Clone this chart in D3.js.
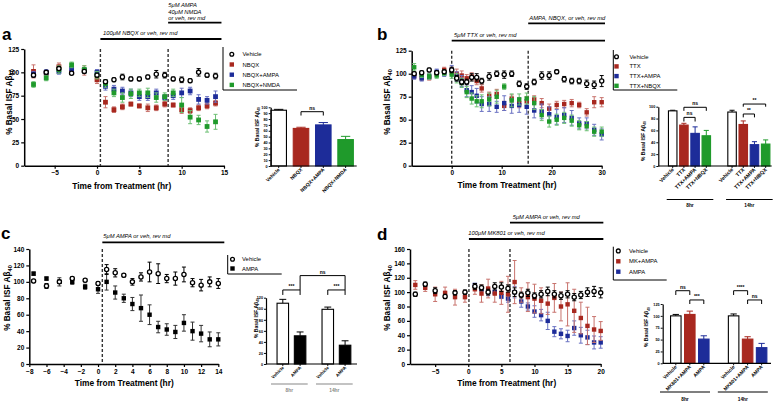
<!DOCTYPE html>
<html><head><meta charset="utf-8">
<script src="https://cdn.jsdelivr.net/npm/d3@7"></script>
<style>body{margin:0;background:#fff}svg{display:block}</style>
</head><body><svg id="c" width="778" height="411"></svg>
<script>
// ================= DATA =================
// Panel a
const aTimes = [-7.5,-6,-4.5,-3,-1.5,0,1,2,3,4,5,6,7,8,9,10,11,12,13,14];
const aVehicle     = [97,100,104,99,101,97,90,92,95,93,93,95,98,97,93,92,91,100,97,96];
const aVehicleErr  = [2,2,2,1.5,1.5,2,2,2,3,2,2,2,4,3,2,3,2,4,2,3];
const aNBQX        = [101,99,106,100,102,92,68,60,63,66,64,62,62,66,65,60,59,62,64,67];
const aNBQXErr     = [7,3,4,2,5,4,6,3,3,2,2,4,3,3,2,4,3,3,3,3];
const aNBQXAMPA    = [98,100,101,104,102,100,85,82,80,78,74,74,78,73,75,78,80,71,70,74];
const aNBQXAMPAErr = [3,3,3,4,3,3,4,4,4,4,4,4,4,3,4,5,4,5,4,6];
const aNBQXNMDA    = [87,94,103,108,103,97,88,78,73,77,78,78,73,74,78,65,52,49,42,47];
const aNBQXNMDAErr = [3,3,4,3,4,4,4,4,5,5,4,5,5,4,4,8,7,5,6,8];
const aEvents = [0.4, 8.4];
const aXTicks = [-5,0,5,10,15];
const aYTicks = [0,25,50,75,100,125];
const aLegend = ["Vehicle","NBQX","NBQX+AMPA","NBQX+NMDA"];
const aAnnot1 = ["100μM NBQX or veh, rev md"];
const aAnnot2 = ["5μM AMPA","40μM NMDA","or veh, rev md"];

// Panel b
const bTimes = [-7.5,-6,-4.5,-3,-1.5,0,1,2,3,4,5,6,7.5,9,10.5,12,13.5,15,16.5,18,19.5,21,22.5,24,25.5,27,28.5,30];
const bVehicle    = [100,101,104,101,102,104,95,91,91,96,96,92,97,100,99,100,89,86,91,98,98,102,94,92,92,89,88,92];
const bVehicleErr = [2,2,2,2,2,3,3,3,3,4,4,3,4,3,4,3,3,3,3,4,4,2,3,3,3,4,4,6];
const bTTX        = [98,96,96,100,104,103,100,98,95,97,92,84,76,78,65,73,68,70,72,68,62,66,67,68,66,58,69,69];
const bTTXErr     = [3,3,3,3,3,4,5,5,4,4,4,4,4,5,5,4,5,5,4,5,5,4,4,4,3,4,6,5];
const bTTXAMPA    = [97,95,97,102,100,104,97,92,82,80,76,67,67,64,68,65,66,64,60,59,56,53,55,52,46,46,39,34];
const bTTXAMPAErr = [3,3,3,3,3,5,5,6,7,7,8,8,8,6,8,8,8,8,8,8,8,8,8,8,6,6,6,6];
const bTTXNBQX    = [107,99,97,98,101,99,95,90,80,73,70,70,72,75,86,71,72,73,68,55,48,50,52,49,44,43,37,37];
const bTTXNBQXErr = [4,3,3,3,3,4,5,5,6,6,6,7,7,7,3,7,6,6,7,6,6,6,6,6,5,5,5,5];
const bEvents = [0, 15.3];
const bXTicks = [0,10,20,30];
const bYTicks = [0,25,50,75,100,125];
const bLegend = ["Vehicle","TTX","TTX+AMPA","TTX+NBQX"];
const bAnnot1 = ["5μM TTX or veh, rev md"];
const bAnnot2 = ["AMPA, NBQX, or veh, rev md"];

// Panel c
const cTimes = [-7.5,-6,-4.5,-3,-1.5,0,1,2,3,4,5,6,7,8,9,10,11,12,13,14];
const cVehicle    = [101,95,100,104,102,98,115,111,108,100,106,112,110,104,104,109,99,96,100,98];
const cVehicleErr = [2,3,2,2,2,2,6,5,2,4,5,12,12,5,8,9,5,7,6,6];
const cAMPA       = [110,104,100,100,94,91,100,87,80,73,68,60,45,42,39,50,40,37,30,30];
const cAMPAErr    = [2,2,5,3,3,5,10,8,5,8,16,12,7,7,8,10,11,10,9,8];
const cEvents = [0.5];
const cXTicks = [-8,-6,-4,-2,0,2,4,6,8,10,12,14];
const cYTicks = [0,20,40,60,80,100,120,140];
const cLegend = ["Vehicle","AMPA"];
const cAnnot1 = ["5μM AMPA or veh, rev md"];

// Panel d
const dTimes = [-8,-6.5,-5,-3.5,-2,-0.5,1,2,3,4,5,6,7,8,9,10,11,12,13,14,15,16,17,18,19,20];
const dVehicle    = [97,111,102,94,99,100,108,106,100,108,107,105,100,96,99,95,97,101,97,95,97,93,96,100,101,99];
const dVehicleErr = [3,3,4,3,3,3,4,4,4,5,6,5,6,4,5,4,5,6,5,5,5,5,5,6,7,7];
const dMKAMPA     = [110,106,97,99,93,93,104,98,105,98,99,97,114,96,93,91,88,84,92,80,83,74,64,53,48,46];
const dMKAMPAErr  = [6,5,10,8,11,7,7,12,13,12,16,25,30,10,20,20,18,15,20,20,30,30,22,26,18,13];
const dAMPATimes  = [1,2,3,4,5,6,7,8,9,10,11,12,13,14,15,16,17,18,19,20];
const dAMPA       = [110,104,100,100,94,91,100,87,80,73,68,60,45,42,39,50,40,37,30,30];
const dAMPAErr    = [2,2,5,3,3,5,8,8,5,8,8,12,7,7,8,10,11,10,9,8];
const dEvents = [0.1, 6.3];
const dXTicks = [-5,0,5,10,15,20];
const dYTicks = [0,20,40,60,80,100,120,140,160];
const dLegend = ["Vehicle","MK+AMPA","AMPA"];
const dAnnot1 = ["100μM MK801 or veh, rev md"];
const dAnnot2 = ["5μM AMPA or veh, rev md"];

// Insets
const insetACats = ["Vehicle","NBQX","NBQX+AMPA","NBQX+NMDA"];
const insetAVals = [95,64,70,45];
const insetAErr  = [1.5,2,4,5.5];
const insetAYTicks = [0,10,20,30,40,50,60,70,80,90,100];

const insetBCats = ["Vehicle","TTX","TTX+AMPA","TTX+NBQX"];
const insetBGroups = ["8hr","14hr"];
const insetB8hr = [93,69,55,51], insetB8hrErr = [1,3,11,9];
const insetB14hr = [91,70,36,37], insetB14hrErr = [3,6,5,7];
const insetBYTicks = [0,20,40,60,80,100];

const insetCCats = ["Vehicle","AMPA"];
const insetCGroups = ["8hr","14hr"];
const insetC8hr = [110,51], insetC8hrErr = [7,7];
const insetC14hr = [99,34], insetC14hrErr = [4,8];
const insetCYTicks = [0,20,40,60,80,100,120];

const insetDCats = ["Vehicle","MK801+AMPA","AMPA"];
const insetDGroups = ["8hr","14hr"];
const insetD8hr = [100,103,51], insetD8hrErr = [3,7,7];
const insetD14hr = [100,51,33], insetD14hrErr = [4,5,9];
const insetDYTicks = [0,25,50,75,100,125];

// ================= DRAWING =================
const FONT = '"Liberation Sans", Arial, Helvetica, sans-serif';
const RED = "#a8281f", BLUE = "#1d2c99", GREEN = "#1f9a2b";
const RED_E = "#c8736d", BLUE_E = "#6a72c2", GREEN_E = "#6cbf73";
const svg = d3.select("#c").attr("font-family", FONT);

function styleAxis(a, fs, sw) {
  a.attr("font-family", FONT);
  a.select(".domain").attr("stroke","#000").attr("stroke-width", sw);
  a.selectAll(".tick line").attr("stroke","#000").attr("stroke-width", sw*0.8);
  a.selectAll(".tick text").attr("font-size", fs).attr("font-weight","bold").attr("fill","#000");
}

function yTitle(g, x, y, fs) {
  const t = g.append("text").attr("transform",`translate(${x},${y}) rotate(-90)`)
    .attr("text-anchor","middle").attr("font-size",fs).attr("font-weight","bold").attr("fill","#000");
  t.append("tspan").text("% Basal ISF Aβ");
  t.append("tspan").attr("font-size",fs*0.7).attr("dy",fs*0.3).text("40");
}

function drawMain(p) {
  const g = svg.append("g");
  const x = d3.scaleLinear().domain(p.xDomain).range(p.xRange);
  const y = d3.scaleLinear().domain(p.yDomain).range(p.yRange);
  p.events.forEach(ev => {
    g.append("line").attr("x1",x(ev)).attr("x2",x(ev)).attr("y1",y(p.yDomain[1])).attr("y2",y(0))
      .attr("stroke","#333").attr("stroke-width",1.4).attr("stroke-dasharray","3,2");
  });
  const ax = g.append("g").attr("transform",`translate(0,${p.yRange[0]})`)
    .call(d3.axisBottom(x).tickValues(p.xTicks).tickSize(3).tickSizeOuter(0).tickPadding(2).tickFormat(d3.format("d")));
  styleAxis(ax, 6.5, 1.5);
  const ay = g.append("g").attr("transform",`translate(${p.xRange[0]},0)`)
    .call(d3.axisLeft(y).tickValues(p.yTicks).tickSize(3).tickSizeOuter(0).tickPadding(2));
  styleAxis(ay, 6.5, 1.5);
  p.series.forEach(s => {
    const data = s.t.map((t,i)=>({t, v:s.v[i], e:s.e[i]}));
    const sg = g.append("g");
    const cw = 2;
    sg.selectAll(".eb").data(data).join("line").attr("x1",d=>x(d.t)).attr("x2",d=>x(d.t))
      .attr("y1",d=>y(d.v+d.e)).attr("y2",d=>y(d.v-d.e)).attr("stroke",s.ec).attr("stroke-width",1);
    sg.selectAll(".ct").data(data).join("line").attr("x1",d=>x(d.t)-cw).attr("x2",d=>x(d.t)+cw)
      .attr("y1",d=>y(d.v+d.e)).attr("y2",d=>y(d.v+d.e)).attr("stroke",s.ec).attr("stroke-width",1);
    sg.selectAll(".cb").data(data).join("line").attr("x1",d=>x(d.t)-cw).attr("x2",d=>x(d.t)+cw)
      .attr("y1",d=>y(d.v-d.e)).attr("y2",d=>y(d.v-d.e)).attr("stroke",s.ec).attr("stroke-width",1);
    if (s.shape === "circle") {
      sg.selectAll(".m").data(data).join("circle").attr("cx",d=>x(d.t)).attr("cy",d=>y(d.v)).attr("r",2.1)
        .attr("fill","#fff").attr("stroke","#000").attr("stroke-width",1.3);
    } else {
      const sz = p.sq;
      sg.selectAll(".m").data(data).join("rect").attr("x",d=>x(d.t)-sz/2).attr("y",d=>y(d.v)-sz/2)
        .attr("width",sz).attr("height",sz).attr("fill",s.c);
    }
  });
  p.annots.forEach(a => {
    g.append("line").attr("x1",x(a.from)).attr("x2",x(a.to)).attr("y1",a.barY).attr("y2",a.barY)
      .attr("stroke","#000").attr("stroke-width",1.8);
    a.lines.forEach((ln,i) => g.append("text").attr("x",a.textX).attr("y",a.textY[i]).attr("font-size",5.8)
      .attr("font-style","italic").attr("fill","#000").text(ln));
  });
  g.append("text").attr("x",p.xTitle[0]).attr("y",p.xTitle[1]).attr("text-anchor","middle")
    .attr("font-size",8.4).attr("font-weight","bold").attr("fill","#000").text("Time from Treatment (hr)");
  yTitle(g, p.yTitle[0], p.yTitle[1], 8.2);
  g.append("text").attr("x",p.letter[1]).attr("y",p.letter[2]).attr("font-size",17).attr("font-weight","bold")
    .attr("fill","#000").text(p.letter[0]);
  const L = p.legend;
  g.append("line").attr("x1",L.x0).attr("x2",L.x0).attr("y1",L.top).attr("y2",L.bottom).attr("stroke","#000").attr("stroke-width",1);
  g.append("line").attr("x1",L.x0).attr("x2",L.right).attr("y1",L.bottom).attr("y2",L.bottom).attr("stroke","#000").attr("stroke-width",1);
  L.names.forEach((nm,i) => {
    const yy = L.y0 + i*L.step;
    const s = p.series.find(q => q.name === nm);
    if (s.shape === "circle") {
      g.append("circle").attr("cx",L.mx).attr("cy",yy).attr("r",1.9).attr("fill","#fff").attr("stroke","#000").attr("stroke-width",1.3);
    } else {
      g.append("rect").attr("x",L.mx-2.2).attr("y",yy-2.2).attr("width",4.4).attr("height",4.4).attr("fill",s.c);
    }
    g.append("text").attr("x",L.tx).attr("y",yy+2).attr("font-size",5.9).attr("fill","#000").text(nm);
  });
}

function drawInset(c) {
  const g = svg.append("g");
  const y = d3.scaleLinear().domain([0,c.yMax]).range([c.y0,c.yTop]);
  const x = d3.scaleLinear().domain([0,1]).range([c.first, c.first + c.step]);
  const pos = (gi,i) => x(gi*c.groupOffset + i);
  const data = [];
  c.groups.forEach((grp,gi) => grp.vals.forEach((v,i) => data.push({gi,i,v,e:grp.errs[i]})));
  const bw = c.barW;
  const sc = d => c.colors[d.i]==="#fff" ? "#000" : c.colors[d.i];
  g.selectAll(".eb").data(data).join("line").attr("x1",d=>pos(d.gi,d.i)).attr("x2",d=>pos(d.gi,d.i))
    .attr("y1",d=>y(d.v)).attr("y2",d=>y(d.v+d.e)).attr("stroke",sc).attr("stroke-width",1);
  g.selectAll(".ec").data(data).join("line").attr("x1",d=>pos(d.gi,d.i)-bw*0.3).attr("x2",d=>pos(d.gi,d.i)+bw*0.3)
    .attr("y1",d=>y(d.v+d.e)).attr("y2",d=>y(d.v+d.e)).attr("stroke",sc).attr("stroke-width",1);
  g.selectAll(".bar").data(data).join("rect").attr("x",d=>pos(d.gi,d.i)-bw/2).attr("y",d=>y(d.v))
    .attr("width",bw).attr("height",d=>y(0)-y(d.v)).attr("fill",d=>c.colors[d.i])
    .attr("stroke",sc).attr("stroke-width",1.1);
  const ay = g.append("g").attr("transform",`translate(${c.axisX},0)`)
    .call(d3.axisLeft(y).tickValues(c.yTicks).tickSize(2).tickSizeOuter(0).tickPadding(1));
  styleAxis(ay, 3.8, 1.2);
  g.append("line").attr("x1",c.axisX).attr("x2",c.axisEnd).attr("y1",c.y0).attr("y2",c.y0).attr("stroke","#000").attr("stroke-width",1.2);
  g.selectAll(".xt").data(data).join("line").attr("x1",d=>pos(d.gi,d.i)).attr("x2",d=>pos(d.gi,d.i))
    .attr("y1",c.y0).attr("y2",c.y0+2).attr("stroke","#000").attr("stroke-width",0.9);
  g.selectAll(".xl").data(data).join("text")
    .attr("transform",d=>`translate(${pos(d.gi,d.i)+1.5},${c.y0+4}) rotate(-45)`)
    .attr("text-anchor","end").attr("font-size",c.xfs).attr("font-weight","bold").attr("fill","#000")
    .text(d=>c.cats[d.i]);
  c.brackets.forEach(b => {
    const x1 = pos(b.from[0],b.from[1]), x2 = pos(b.to[0],b.to[1]);
    const yl = y(b.level), yd = y(b.dropTo);
    g.append("path").attr("d",`M${x1},${yd}V${yl}H${x2}V${yd}`).attr("fill","none").attr("stroke","#000").attr("stroke-width",1);
    g.append("text").attr("x",(x1+x2)/2).attr("y",yl-2).attr("text-anchor","middle").attr("font-size",5)
      .attr("font-weight","bold").attr("fill","#000").text(b.label);
  });
  if (c.groupNames) {
    c.groupNames.forEach((nm,gi) => {
      const n = c.cats.length;
      const l = pos(gi,0) - c.padL, r = pos(gi,n-1) + c.padR;
      g.append("line").attr("x1",l).attr("x2",r).attr("y1",c.lineY).attr("y2",c.lineY).attr("stroke",c.lineColor).attr("stroke-width",1.2);
      g.append("text").attr("x",(l+r)/2).attr("y",c.labelY).attr("text-anchor","middle").attr("font-size",4.8)
        .attr("font-weight","bold").attr("fill",c.lineColor).text(nm);
    });
  }
  yTitle(g, c.titleX, c.titleY, 5);
}

drawMain({
  xDomain:[-8.6,15], xRange:[24.2,224], yDomain:[0,125], yRange:[165.7,49],
  xTicks:aXTicks, yTicks:aYTicks, events:aEvents, sq:4.8,
  series:[
    {name:"NBQX", t:aTimes, v:aNBQX, e:aNBQXErr, c:RED, ec:RED_E, shape:"square"},
    {name:"NBQX+AMPA", t:aTimes, v:aNBQXAMPA, e:aNBQXAMPAErr, c:BLUE, ec:BLUE_E, shape:"square"},
    {name:"NBQX+NMDA", t:aTimes, v:aNBQXNMDA, e:aNBQXNMDAErr, c:GREEN, ec:GREEN_E, shape:"square"},
    {name:"Vehicle", t:aTimes, v:aVehicle, e:aVehicleErr, c:"#000", ec:"#000", shape:"circle"}
  ],
  annots:[
    {lines:aAnnot1, from:aEvents[0], to:14.7, barY:39, textX:103, textY:[35]},
    {lines:aAnnot2, from:aEvents[1], to:14.7, barY:22.7, textX:168.3, textY:[6.5,13.5,20]}
  ],
  xTitle:[121.7,188.5], yTitle:[12,102], letter:["a",2,40],
  legend:{x0:223, top:47, bottom:90, right:297, y0:54.3, step:10.2, mx:231.8, tx:242.5, names:aLegend}
});
drawMain({
  xDomain:[-8,30], xRange:[411.7,601.7], yDomain:[0,125], yRange:[165.7,50.7],
  xTicks:bXTicks, yTicks:bYTicks, events:bEvents, sq:4.4,
  series:[
    {name:"TTX", t:bTimes, v:bTTX, e:bTTXErr, c:RED, ec:RED_E, shape:"square"},
    {name:"TTX+AMPA", t:bTimes, v:bTTXAMPA, e:bTTXAMPAErr, c:BLUE, ec:BLUE_E, shape:"square"},
    {name:"TTX+NBQX", t:bTimes, v:bTTXNBQX, e:bTTXNBQXErr, c:GREEN, ec:GREEN_E, shape:"square"},
    {name:"Vehicle", t:bTimes, v:bVehicle, e:bVehicleErr, c:"#000", ec:"#000", shape:"circle"}
  ],
  annots:[
    {lines:bAnnot1, from:bEvents[0], to:30.66, barY:40.7, textX:454, textY:[36.5]},
    {lines:bAnnot2, from:bEvents[1], to:30.66, barY:23.3, textX:529.3, textY:[20]}
  ],
  xTitle:[507,188], yTitle:[390,102], letter:["b",377,40],
  legend:{x0:613.3, top:50, bottom:90, right:677.3, y0:56.7, step:9.7, mx:616.5, tx:629.5, names:bLegend}
});
drawMain({
  xDomain:[-8,14], xRange:[29.3,218.3], yDomain:[0,140], yRange:[364,249],
  xTicks:cXTicks, yTicks:cYTicks, events:cEvents, sq:4.4,
  series:[
    {name:"AMPA", t:cTimes, v:cAMPA, e:cAMPAErr, c:"#000", ec:"#333", shape:"square"},
    {name:"Vehicle", t:cTimes, v:cVehicle, e:cVehicleErr, c:"#000", ec:"#000", shape:"circle"}
  ],
  annots:[
    {lines:cAnnot1, from:cEvents[0], to:14.7, barY:242.3, textX:103.3, textY:[238]}
  ],
  xTitle:[124.3,385.5], yTitle:[10,298], letter:["c",1,239],
  legend:{x0:227.7, top:255, bottom:274, right:281.7, y0:259.2, step:9.3, mx:232.5, tx:242, names:cLegend}
});
drawMain({
  xDomain:[-8.8,20], xRange:[410,600.7], yDomain:[0,160], yRange:[364,249],
  xTicks:dXTicks, yTicks:dYTicks, events:dEvents, sq:4.4,
  series:[
    {name:"AMPA", t:dAMPATimes, v:dAMPA, e:dAMPAErr, c:BLUE, ec:BLUE_E, shape:"square"},
    {name:"MK+AMPA", t:dTimes, v:dMKAMPA, e:dMKAMPAErr, c:RED, ec:RED_E, shape:"square"},
    {name:"Vehicle", t:dTimes, v:dVehicle, e:dVehicleErr, c:"#000", ec:"#000", shape:"circle"}
  ],
  annots:[
    {lines:dAnnot1, from:dEvents[0], to:20.4, barY:239, textX:468.3, textY:[235]},
    {lines:dAnnot2, from:dEvents[1], to:20.4, barY:222.7, textX:512.7, textY:[218.5]}
  ],
  xTitle:[506.7,386], yTitle:[390,298], letter:["d",377,240],
  legend:{x0:613.3, top:246.7, bottom:280, right:666.7, y0:250.9, step:10.4, mx:618.3, tx:629, names:dLegend}
});

drawInset({
  yMax:100, y0:166, yTop:107.3, yTicks:insetAYTicks, axisX:270.7, axisEnd:356.7,
  first:278.7, step:22.3, groupOffset:0, barW:15.5, xfs:5,
  cats:insetACats, colors:["#fff",RED,BLUE,GREEN],
  groups:[{vals:insetAVals, errs:insetAErr}],
  brackets:[{from:[0,1], to:[0,2], level:92.5, dropTo:86, label:"ns"}],
  titleX:258.5, titleY:127
});
drawInset({
  yMax:100, y0:166, yTop:106.7, yTicks:insetBYTicks, axisX:658.3, axisEnd:771.7,
  first:672.7, step:11.2, groupOffset:5.3, barW:8.5, xfs:5.2,
  cats:insetBCats, colors:["#fff",RED,BLUE,GREEN],
  groups:[{vals:insetB8hr, errs:insetB8hrErr},{vals:insetB14hr, errs:insetB14hrErr}],
  brackets:[
    {from:[0,1], to:[0,2], level:82, dropTo:75, label:"ns"},
    {from:[0,1], to:[0,3], level:99, dropTo:93, label:"ns"},
    {from:[1,1], to:[1,2], level:87.7, dropTo:82, label:"**"},
    {from:[1,1], to:[1,3], level:104.5, dropTo:100, label:"**"}
  ],
  groupNames:insetBGroups, padL:6, padR:7, lineY:199.5, labelY:206.5, lineColor:"#000",
  titleX:644.5, titleY:141
});
drawInset({
  yMax:120, y0:364, yTop:297.7, yTicks:insetCYTicks, axisX:266, axisEnd:357,
  first:282.8, step:17.3, groupOffset:2.6, barW:11.5, xfs:4.5,
  cats:insetCCats, colors:["#fff","#000"],
  groups:[{vals:insetC8hr, errs:insetC8hrErr},{vals:insetC14hr, errs:insetC14hrErr}],
  brackets:[
    {from:[0,0], to:[0,1], level:134, dropTo:125, label:"***"},
    {from:[1,0], to:[1,1], level:134, dropTo:125, label:"***"},
    {from:[0,1], to:[1,1], level:160, dropTo:134, label:"ns"}
  ],
  groupNames:insetCGroups, padL:11.8, padR:7.6, lineY:384, labelY:392, lineColor:"#888",
  titleX:257.5, titleY:318
});
drawInset({
  yMax:125, y0:363.3, yTop:304, yTicks:insetDYTicks, axisX:662.7, axisEnd:771,
  first:675.8, step:14, groupOffset:4.13, barW:10.5, xfs:5,
  cats:insetDCats, colors:["#fff",RED,BLUE],
  groups:[{vals:insetD8hr, errs:insetD8hrErr},{vals:insetD14hr, errs:insetD14hrErr}],
  brackets:[
    {from:[0,0], to:[0,1], level:153, dropTo:144, label:"ns"},
    {from:[0,1], to:[0,2], level:133.5, dropTo:125, label:"***"},
    {from:[1,0], to:[1,1], level:153, dropTo:144, label:"****"},
    {from:[1,1], to:[1,2], level:133.5, dropTo:125, label:"ns"}
  ],
  groupNames:insetDGroups, padL:15.8, padR:6.2, lineY:392, labelY:401, lineColor:"#000",
  titleX:648, titleY:327
});
</script></body></html>
